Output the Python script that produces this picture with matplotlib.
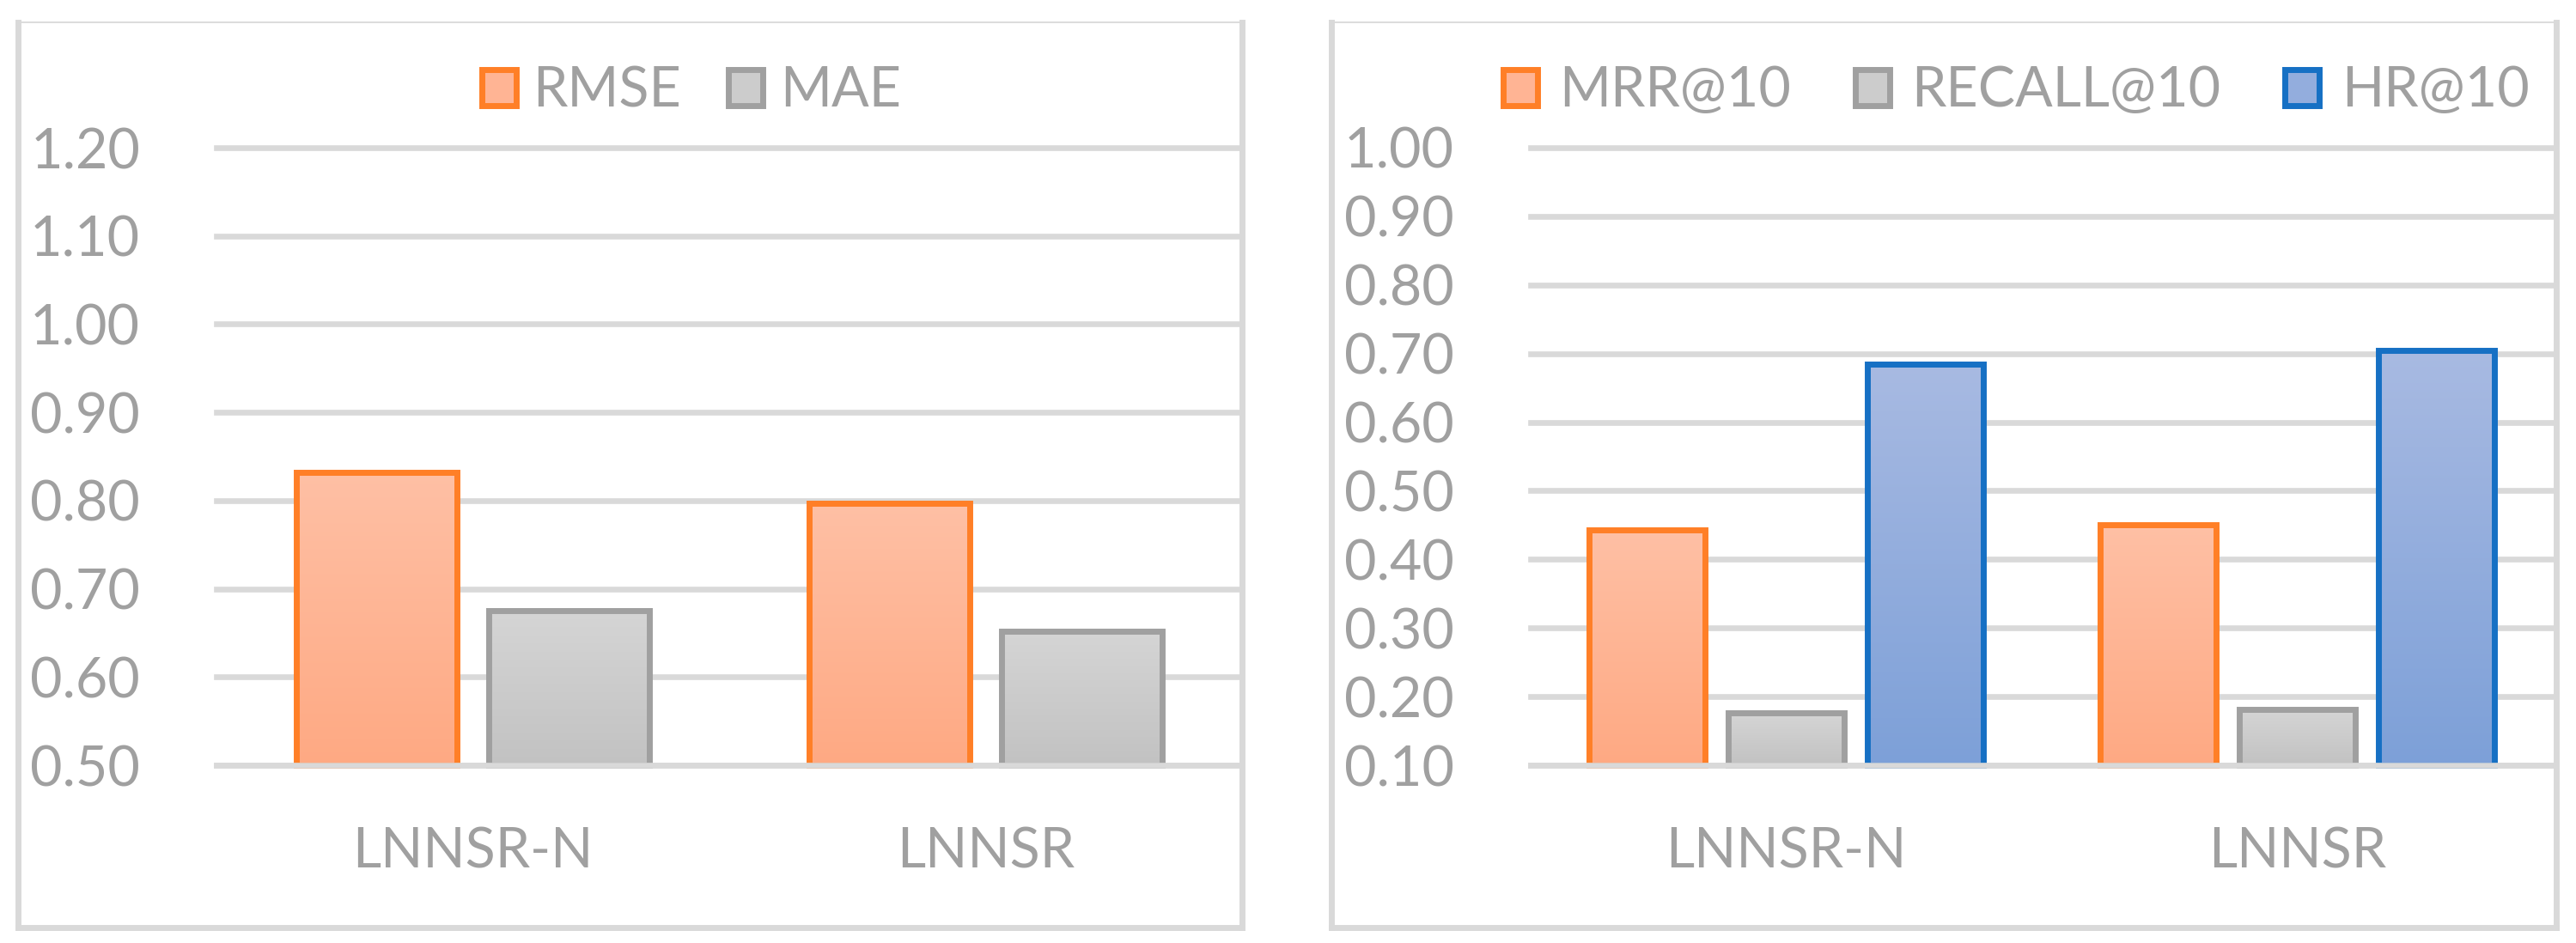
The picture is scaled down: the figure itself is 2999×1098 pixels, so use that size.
import numpy as np
import matplotlib
matplotlib.use("Agg")
import matplotlib.pyplot as plt
from matplotlib.patches import Rectangle, Patch
from matplotlib.lines import Line2D
import matplotlib.colors as mcolors

# ---------------- data ----------------
categories = ["LNNSR-N", "LNNSR"]
rmse = [0.832, 0.797]
mae = [0.675, 0.652]
mrr10 = [0.443, 0.451]
recall10 = [0.176, 0.181]
hr10 = [0.685, 0.704]

left_ticks = [0.50, 0.60, 0.70, 0.80, 0.90, 1.00, 1.10, 1.20]
right_ticks = [0.10, 0.20, 0.30, 0.40, 0.50, 0.60, 0.70, 0.80, 0.90, 1.00]

# ---------------- style ----------------
FONT = ["Lato", "DejaVu Sans"]
TXT = "#A0A0A0"
GRID = "#D9D9D9"
FS = 46.5
styles = {
    "orange": dict(edge="#FF7F27", top="#FFC0A5", bot="#FEA983"),
    "gray": dict(edge="#A0A0A0", top="#D5D5D5", bot="#C2C2C2"),
    "blue": dict(edge="#1670C4", top="#A8BAE2", bot="#7DA0D8"),
}

plt.rcParams["font.family"] = FONT

W, H = 2999, 1098
fig = plt.figure(figsize=(W / 100, H / 100), dpi=100)
fig.patch.set_facecolor("white")


def fx(px):
    return px / W


def fy(py):
    return 1 - py / H


def gradient_bar(ax, x, h, width, base, st):
    x0 = x - width / 2
    cmap = mcolors.LinearSegmentedColormap.from_list("g", [st["bot"], st["top"]])
    grad = np.linspace(0, 1, 256).reshape(-1, 1)
    im = ax.imshow(grad, extent=(x0, x0 + width, base, h), origin="lower",
                   cmap=cmap, aspect="auto", interpolation="bicubic", zorder=1)
    rect = Rectangle((x0, base), width, h - base, facecolor="none",
                     edgecolor=st["edge"], linewidth=5.0, joinstyle="miter",
                     zorder=2, clip_on=False)
    ax.add_patch(rect)
    im.set_clip_path(rect)


def setup_axes(rect_px, ylim, ticks):
    x0, x1, ytop, ybot = rect_px
    ax = fig.add_axes([fx(x0), fy(ybot), fx(x1) - fx(x0), fy(ytop) - fy(ybot)])
    ax.set_facecolor("none")
    for s in ("top", "left", "right"):
        ax.spines[s].set_visible(False)
    ax.spines["bottom"].set_color(GRID)
    ax.spines["bottom"].set_linewidth(4.8)
    ax.spines["bottom"].set_zorder(5)
    ax.set_yticks(ticks)
    ax.set_yticklabels([f"{t:.2f}" for t in ticks])
    ax.yaxis.grid(True, color=GRID, linewidth=4.8)
    ax.set_axisbelow(True)
    ax.tick_params(axis="both", length=0, labelsize=FS, labelcolor=TXT)
    ax.tick_params(axis="y", pad=64)
    ax.set_xticks(range(len(categories)))
    ax.set_xticklabels(categories)
    ax.tick_params(axis="x", pad=86)
    for lab in ax.get_xticklabels():
        lab.set_verticalalignment("baseline")
        lab.set_fontfamily(FONT)
    for lab in ax.get_yticklabels():
        lab.set_fontfamily(FONT)
    return ax


def finish_axes(ax, ylim):
    ax.set_xlim(-0.5, len(categories) - 0.5)
    ax.set_ylim(*ylim)
    for gl in ax.get_ygridlines():
        gl.set_clip_on(False)


def frame(x0, x1, ytop, ybot):
    c = GRID
    fig.add_artist(Line2D([fx(x0), fx(x1)], [fy(ytop), fy(ytop)], color=c, lw=1.3))
    for xs, ys in (([x0, x0], [ytop, ybot]), ([x1, x1], [ytop, ybot]),
                   ([x0, x1], [ybot, ybot])):
        fig.add_artist(Line2D([fx(v) for v in xs], [fy(v) for v in ys],
                              color=c, lw=5.0, solid_capstyle="projecting"))


# frames
frame(20.5, 1446, 26, 1079.5)
frame(1550.5, 2975.5, 26, 1079.5)

x = np.arange(len(categories))

# ---------------- left panel ----------------
ylimL = (0.5, 1.2)
axL = setup_axes((252, 1446, 172, 891), ylimL, left_ticks)
wL = 1 / 3.2
for i in range(len(categories)):
    gradient_bar(axL, x[i] - 0.6 * wL, rmse[i], wL, ylimL[0], styles["orange"])
    gradient_bar(axL, x[i] + 0.6 * wL, mae[i], wL, ylimL[0], styles["gray"])
finish_axes(axL, ylimL)

# ---------------- right panel ----------------
ylimR = (0.1, 1.0)
axR = setup_axes((1782, 2972, 172, 891), ylimR, right_ticks)
wR = 1 / 4.4
for i in range(len(categories)):
    gradient_bar(axR, x[i] - 1.2 * wR, mrr10[i], wR, ylimR[0], styles["orange"])
    gradient_bar(axR, x[i], recall10[i], wR, ylimR[0], styles["gray"])
    gradient_bar(axR, x[i] + 1.2 * wR, hr10[i], wR, ylimR[0], styles["blue"])
finish_axes(axR, ylimR)


# ---------------- legends ----------------
def mid(st):
    a = np.array(mcolors.to_rgb(st["top"]))
    b = np.array(mcolors.to_rgb(st["bot"]))
    return tuple((a + b) / 2)


def legend(labels, keys, center_px, textpad, colspace):
    handles = [Patch(facecolor=mid(styles[k]), edgecolor=styles[k]["edge"],
                     linewidth=5.0) for k in keys]
    leg = fig.legend(handles, labels, loc="center",
                     bbox_to_anchor=(fx(center_px[0]), fy(center_px[1])),
                     ncol=len(labels), frameon=False,
                     handlelength=0.62, handleheight=0.62,
                     handletextpad=textpad, columnspacing=colspace,
                     borderpad=0, borderaxespad=0,
                     prop={"family": FONT, "size": FS})
    for t in leg.get_texts():
        t.set_color(TXT)
    return leg


legend(["RMSE", "MAE"], ["orange", "gray"], (805, 106), 0.3, 0.85)
legend(["MRR@10", "RECALL@10", "HR@10"], ["orange", "gray", "blue"],
       (2347, 106), 0.4, 1.15)

fig.savefig("out.png", dpi=100, facecolor="white")
